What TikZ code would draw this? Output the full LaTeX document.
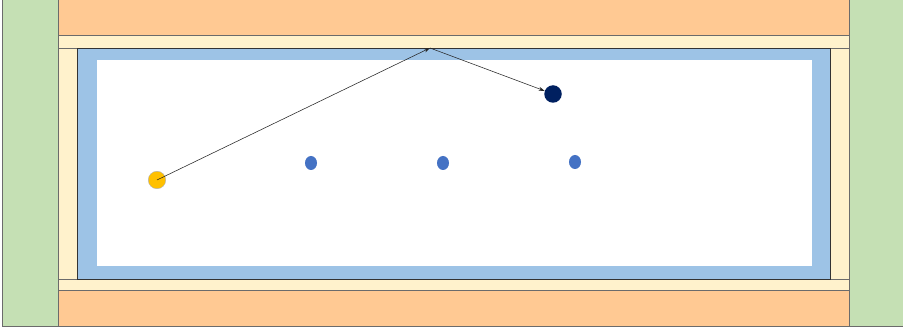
\documentclass[tikz,border=0pt]{standalone}
\usetikzlibrary{arrows.meta,shapes.geometric}
\definecolor{pgreen}{HTML}{C5E0B4}
\definecolor{porange}{HTML}{FFC993}
\definecolor{pcream}{HTML}{FFF2CC}
\definecolor{pblue}{HTML}{9DC3E6}
\definecolor{pyellow}{HTML}{FFC000}
\definecolor{pnavy}{HTML}{002060}
\definecolor{pdot}{HTML}{4472C4}
\definecolor{pedge}{HTML}{6B6B6B}
\tikzset{
  panel/.style={draw=pedge, line width=0.8pt},
  ball/.style={circle, inner sep=0pt, minimum size=17.5pt},
  dot/.style={ellipse, inner sep=0pt, minimum width=12pt, minimum height=14pt, fill=pdot},
  shot/.style={-{Stealth[length=6pt,width=4pt]}, line width=0.55pt, black!85}
}
\begin{document}
\begin{tikzpicture}[x=1pt,y=-1pt]
\useasboundingbox (0,0) rectangle (903,331);
\fill[white] (0,0) rectangle (903,331);
% green side walls
\draw[panel, fill=pgreen] (2.3,-2) rectangle (58.7,326.7);
\draw[panel, fill=pgreen] (849.3,-2) rectangle (906,326.7);
% orange top/bottom
\draw[panel, fill=porange] (58.7,-2) rectangle (849.3,35.7);
\draw[panel, fill=porange] (58.7,290.7) rectangle (849.3,326.7);
% cream frame
\draw[panel, fill=pcream] (58.7,35.7) rectangle (849.3,290.7);
\draw[panel] (58.7,48) -- (849.3,48);
\draw[panel] (58.7,279.3) -- (849.3,279.3);
% blue table
\draw[draw=black!80, line width=0.8pt, fill=pblue] (77.7,48) rectangle (830.7,279.3);
% white playing area
\fill[white] (96.7,60) rectangle (811.7,266);
% balls
\node[ball, fill=pyellow, draw=black!30, line width=0.4pt] (cue) at (157,180) {};
\node[ball, fill=pnavy] (target) at (553,94) {};
\node[dot] (d1) at (311,163) {};
\node[dot] (d2) at (443,163) {};
\node[dot] (d3) at (575,162) {};
% path
\coordinate (bounce) at (430,48);
\draw[shot] (cue.center) -- (bounce);
\draw[shot] (bounce) -- (target);
\end{tikzpicture}
\end{document}
